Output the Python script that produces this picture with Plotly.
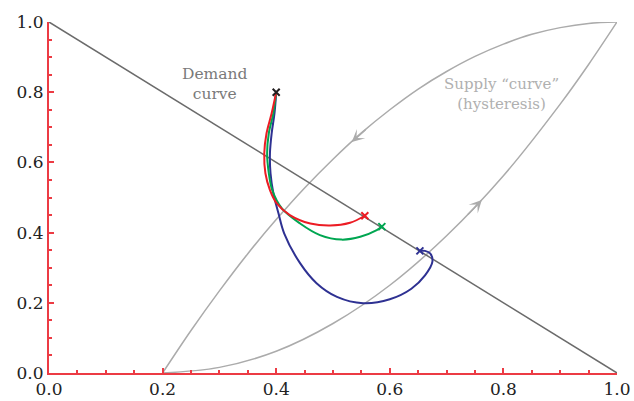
"""Demand curve vs. hysteresis supply curve with price trajectories."""

import plotly.graph_objects as go

COLOR_AXIS = "#ec3b44"
COLOR_DEMAND = "#6b6b6b"
COLOR_SUPPLY = "#ababab"
COLOR_RED = "#ec1c24"
COLOR_GREEN = "#00a651"
COLOR_BLUE = "#2e3192"
COLOR_START = "#231f20"
FONT = "DejaVu Serif"

# demand: straight line
demand_x = [0.0, 1.0]
demand_y = [1.0, 0.0]

# supply "curve", upper branch (travelled downwards)
supply_up_x = [0.2, 0.25, 0.3, 0.35, 0.4, 0.45, 0.5, 0.55, 0.6, 0.65, 0.7, 0.75, 0.8,
               0.85, 0.9, 0.95, 1.0]
supply_up_y = [0.0, 0.121, 0.234, 0.340, 0.437, 0.527, 0.609, 0.684, 0.750, 0.809, 0.859,
               0.902, 0.937, 0.965, 0.984, 0.996, 1.0]

# supply "curve", lower branch (travelled upwards)
supply_lo_x = [0.2, 0.3, 0.4, 0.5, 0.6, 0.7, 0.8, 0.9, 0.95, 1.0]
supply_lo_y = [0.0, 0.016, 0.062, 0.141, 0.25, 0.391, 0.562, 0.766, 0.879, 1.0]

# trajectories, all starting from (0.4, 0.8)
red_x = [0.400, 0.392, 0.383, 0.379, 0.381, 0.389, 0.401, 0.424, 0.460, 0.495, 0.530, 0.556]
red_y = [0.800, 0.740, 0.683, 0.626, 0.569, 0.521, 0.483, 0.450, 0.426, 0.420, 0.428, 0.448]

green_x = [0.400, 0.395, 0.387, 0.384, 0.387, 0.393, 0.410, 0.442, 0.477, 0.515, 0.548, 0.577, 0.586]
green_y = [0.800, 0.740, 0.683, 0.626, 0.569, 0.521, 0.469, 0.426, 0.393, 0.380, 0.388, 0.407, 0.417]

blue_x = [0.400, 0.397, 0.392, 0.389, 0.390, 0.395, 0.404, 0.414, 0.442, 0.471, 0.507,
          0.553, 0.600, 0.638, 0.662, 0.675, 0.671, 0.662, 0.653]
blue_y = [0.800, 0.740, 0.683, 0.626, 0.569, 0.512, 0.455, 0.398, 0.313, 0.256, 0.217,
          0.199, 0.210, 0.240, 0.278, 0.317, 0.341, 0.348, 0.348]

tick_vals = [0.0, 0.2, 0.4, 0.6, 0.8, 1.0]

fig = go.Figure()

for xs, ys in [(supply_up_x, supply_up_y), (supply_lo_x, supply_lo_y)]:
    fig.add_trace(go.Scatter(
        x=xs, y=ys, mode="lines",
        line=dict(color=COLOR_SUPPLY, width=1.5, shape="spline", smoothing=1.0),
        hoverinfo="skip",
    ))

fig.add_trace(go.Scatter(
    x=demand_x, y=demand_y, mode="lines",
    line=dict(color=COLOR_DEMAND, width=1.5),
    hoverinfo="skip",
))

for xs, ys, col in [(blue_x, blue_y, COLOR_BLUE),
                    (green_x, green_y, COLOR_GREEN),
                    (red_x, red_y, COLOR_RED)]:
    fig.add_trace(go.Scatter(
        x=xs, y=ys, mode="lines",
        line=dict(color=col, width=2, shape="spline", smoothing=1.0),
        hoverinfo="skip",
    ))
    fig.add_trace(go.Scatter(
        x=[xs[-1]], y=[ys[-1]], mode="markers",
        marker=dict(symbol="x-thin", size=7, line=dict(color=col, width=2)),
        cliponaxis=False, hoverinfo="skip",
    ))

fig.add_trace(go.Scatter(
    x=[red_x[0]], y=[red_y[0]], mode="markers",
    marker=dict(symbol="x-thin", size=7, line=dict(color=COLOR_START, width=2)),
    cliponaxis=False, hoverinfo="skip",
))

# direction arrows on the hysteresis loop
for tip_x, tip_y, tail_x, tail_y in [(0.533, 0.658, 0.56, 0.697),
                                     (0.762, 0.493, 0.735, 0.447)]:
    fig.add_annotation(
        x=tip_x, y=tip_y, ax=tail_x, ay=tail_y,
        xref="x", yref="y", axref="x", ayref="y",
        text="", showarrow=True, arrowhead=3, arrowsize=1.4,
        arrowwidth=1.5, arrowcolor=COLOR_SUPPLY, standoff=0,
    )

fig.add_annotation(
    x=0.292, y=0.823, xref="x", yref="y", showarrow=False,
    text="Demand<br>curve", font=dict(family=FONT, size=15.5, color="#7a7a7a"),
)
fig.add_annotation(
    x=0.797, y=0.795, xref="x", yref="y", showarrow=False,
    text="Supply \u201ccurve\u201d<br>(hysteresis)",
    font=dict(family=FONT, size=15, color="#b0b0b0"),
)

axis_style = dict(
    range=[0, 1],
    tickvals=tick_vals,
    tickformat=".1f",
    ticks="inside",
    ticklen=5,
    tickwidth=1.5,
    tickcolor=COLOR_AXIS,
    showline=True,
    linecolor=COLOR_AXIS,
    linewidth=2,
    showgrid=False,
    zeroline=False,
    automargin=False,
    minor=dict(dtick=0.05, ticks="inside", ticklen=3, tickwidth=1.5,
               tickcolor=COLOR_AXIS, showgrid=False),
    tickfont=dict(family=FONT, size=17, color="#222222"),
)

fig.update_layout(
    width=634,
    height=401,
    showlegend=False,
    plot_bgcolor="white",
    paper_bgcolor="white",
    margin=dict(l=49, r=17, t=22, b=28),
    xaxis=axis_style,
    yaxis=axis_style,
)

# page body has a default 8px margin; drop it so the figure sits at the corner
fig.write_html(
    "out.html",
    config={"displayModeBar": False},
    post_script="document.body.style.margin='0';",
)
